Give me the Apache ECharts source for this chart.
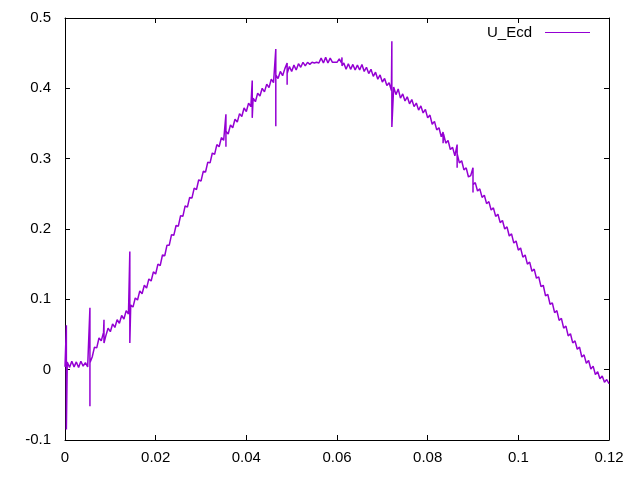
<!DOCTYPE html>
<html>
<head>
<meta charset="utf-8">
<script src="https://cdn.jsdelivr.net/npm/echarts@6/dist/echarts.min.js"></script>
<style>html,body{margin:0;padding:0;background:#fff}#c{width:640px;height:480px}</style>
</head>
<body>
<div id="c"></div>
<script>
// sample step of the measured signal
var dt = 0.0005;
// measured values U_Ecd, one per sample (x = i*dt)
var yVals = [
0.004, 0.011, 0.003, 0.012, 0.004, 0.011, 0.003, 0.012, 0.005, 0.010,
0.004, 0.010, 0.018, 0.032, 0.031, 0.045, 0.041, 0.053, 0.048, 0.059,
0.054, 0.065, 0.060, 0.071, 0.066, 0.077, 0.072, 0.084, 0.079, 0.092,
0.089, 0.102, 0.099, 0.112, 0.108, 0.120, 0.116, 0.129, 0.126, 0.139,
0.136, 0.150, 0.148, 0.163, 0.162, 0.177, 0.177, 0.192, 0.191, 0.205,
0.204, 0.219, 0.218, 0.233, 0.231, 0.245, 0.244, 0.258, 0.256, 0.270,
0.268, 0.282, 0.281, 0.295, 0.294, 0.308, 0.306, 0.320, 0.317, 0.330,
0.326, 0.339, 0.335, 0.348, 0.344, 0.356, 0.352, 0.364, 0.360, 0.372,
0.367, 0.379, 0.374, 0.386, 0.381, 0.393, 0.389, 0.400, 0.395, 0.406,
0.401, 0.413, 0.408, 0.419, 0.414, 0.424, 0.418, 0.428, 0.421, 0.431,
0.424, 0.433, 0.426, 0.435, 0.430, 0.437, 0.432, 0.437, 0.434, 0.437,
0.436, 0.437, 0.436, 0.443, 0.436, 0.444, 0.436, 0.443, 0.437, 0.437,
0.437, 0.442, 0.436, 0.436, 0.427, 0.435, 0.427, 0.434, 0.426, 0.433,
0.426, 0.434, 0.424, 0.430, 0.421, 0.427, 0.417, 0.423, 0.413, 0.419,
0.409, 0.414, 0.404, 0.408, 0.397, 0.402, 0.391, 0.399, 0.386, 0.392,
0.382, 0.388, 0.378, 0.384, 0.374, 0.379, 0.369, 0.375, 0.365, 0.370,
0.358, 0.362, 0.349, 0.353, 0.341, 0.344, 0.331, 0.335, 0.322, 0.326,
0.313, 0.316, 0.304, 0.307, 0.294, 0.297, 0.284, 0.287, 0.274, 0.276,
0.263, 0.266, 0.254, 0.257, 0.245, 0.248, 0.236, 0.239, 0.227, 0.230,
0.218, 0.221, 0.209, 0.212, 0.200, 0.203, 0.190, 0.193, 0.180, 0.183,
0.170, 0.173, 0.160, 0.163, 0.150, 0.153, 0.140, 0.143, 0.130, 0.132,
0.118, 0.120, 0.105, 0.107, 0.093, 0.095, 0.081, 0.084, 0.070, 0.073,
0.059, 0.062, 0.048, 0.051, 0.038, 0.041, 0.029, 0.032, 0.018, 0.021,
0.009, 0.013, 0.001, 0.005, -0.007, -0.003, -0.013, -0.009, -0.018, -0.014,
-0.020
];
// glitches (spikes) in the signal
var spikeX  = [0.0003, 0.0055, 0.0086, 0.0143, 0.0355, 0.0413, 0.0465, 0.049, 0.0611, 0.0721, 0.0834, 0.0865, 0.0900];
var spikeHi = [0.063, 0.088, 0.071, 0.168, 0.363, 0.411, 0.456, 0.436, 0.444, 0.467, 0.338, 0.320, 0.287];
var spikeLo = [-0.085, -0.052, 0.038, 0.038, 0.317, 0.358, 0.346, 0.405, 0.432, 0.345, 0.322, 0.287, 0.252];
var xTicks = [0, 0.02, 0.04, 0.06, 0.08, 0.1, 0.12];
var yTicks = [-0.1, 0, 0.1, 0.2, 0.3, 0.4, 0.5];
var seriesName = 'U_Ecd';

var pts = [];
var s = 0;
for (var i = 0; i < yVals.length; i++) {
  var x = +(i * dt).toFixed(5);
  while (s < spikeX.length && spikeX[s] <= x) {
    pts.push([spikeX[s], spikeHi[s]]);
    pts.push([spikeX[s], spikeLo[s]]);
    s++;
  }
  pts.push([x, yVals[i]]);
}

var font = 'Liberation Sans, Arial, sans-serif';
function axX(pos, show) {
  return {
    type: 'value', position: pos, min: xTicks[0], max: xTicks[xTicks.length - 1], interval: 0.02,
    axisLine: {show: true, onZero: false, lineStyle: {color: '#000', width: 1}},
    axisTick: {show: true, inside: true, length: 5, lineStyle: {color: '#000'}},
    axisLabel: {show: show, color: '#000', fontSize: 15, fontFamily: font, margin: 10,
      formatter: function (v) { return String(+v.toFixed(4)); }},
    splitLine: {show: false}
  };
}
function axY(pos, show) {
  return {
    type: 'value', position: pos, min: yTicks[0], max: yTicks[yTicks.length - 1], interval: 0.1,
    axisLine: {show: true, onZero: false, lineStyle: {color: '#000', width: 1}},
    axisTick: {show: true, inside: true, length: 5, lineStyle: {color: '#000'}},
    axisLabel: {show: show, color: '#000', fontSize: 15, fontFamily: font, margin: 14,
      formatter: function (v) { return String(+v.toFixed(4)); }},
    splitLine: {show: false}
  };
}

var chart = echarts.init(document.getElementById('c'), null, {renderer: 'canvas'});
chart.setOption({
  animation: false,
  backgroundColor: '#fff',
  grid: {left: 65, right: 31, top: 18, bottom: 40},
  legend: {
    right: 50, top: 25, padding: 0, align: 'right', itemWidth: 45, itemHeight: 1,
    icon: 'rect',
    itemStyle: {color: '#9400D3', borderWidth: 0},
    textStyle: {color: '#000', fontSize: 15, fontFamily: font, padding: [0, 8, 0, 0]},
    data: [{name: seriesName, icon: 'rect'}]
  },
  xAxis: [axX('bottom', true), axX('top', false)],
  yAxis: [axY('left', true), axY('right', false)],
  series: [{
    name: seriesName, type: 'line', xAxisIndex: 0, yAxisIndex: 0,
    data: pts, symbol: 'none', showSymbol: false, sampling: null,
    lineStyle: {color: '#9400D3', width: 1.5}, itemStyle: {color: '#9400D3'}
  }]
});
</script>
</body>
</html>
